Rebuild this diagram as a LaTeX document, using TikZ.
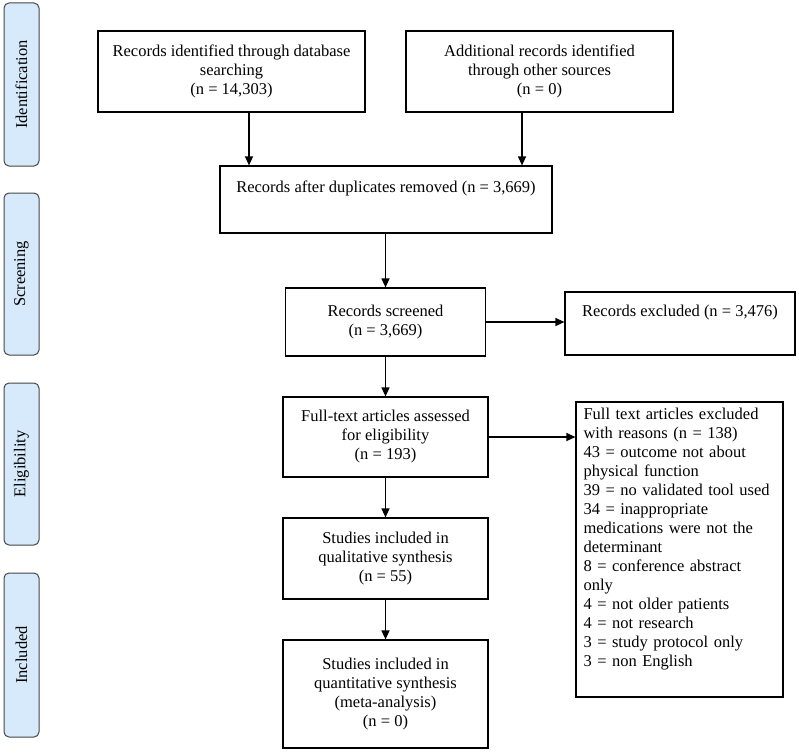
\documentclass[tikz,border=0pt]{standalone}
\usepackage{fontspec}
\setmainfont{Liberation Serif}
\usetikzlibrary{positioning,calc,arrows.meta}
\definecolor{phasefill}{RGB}{214,234,251}
\definecolor{phaseline}{RGB}{70,70,70}

\begin{document}
\begin{tikzpicture}[x=1pt,y=-1pt,
			font=\fontsize{16.5}{19}\selectfont,
			box/.style={draw, line width=1.2pt, align=center, inner sep=2pt},
			phase/.style={draw=phaseline, fill=phasefill, rounded corners=5pt, line width=1pt,
				rotate=90, minimum height=35pt, inner sep=0pt},
			arr/.style={line width=1.2pt, -{Triangle[length=9pt,width=8pt]}}]
			\useasboundingbox (0,0) rectangle (799,752);
			% phases
			\node[phase, minimum width=163pt] (ident) at (21.5,84.5) {Identification};
			\node[phase, minimum width=162pt] (screen) at (21.5,274) {Screening};
			\node[phase, minimum width=162pt] (elig) at (21.5,464) {Eligibility};
			\node[phase, minimum width=164pt] (incl) at (21.5,655) {Included};
			% flow boxes
			\node[box, minimum width=267pt, minimum height=81pt] (db) at (231.5,71.5)
				{Records identified through database\\searching\\(n = 14,303)};
			\node[box, minimum width=267pt, minimum height=81pt] (other) at (539.5,71.5)
				{Additional records identified\\through other sources\\(n = 0)};
			\node[box, minimum width=332pt, minimum height=67pt] (dup) at (386,199.5)
				{Records after duplicates removed (n = 3,669)\\\strut};
			\node[box, minimum width=200pt, minimum height=68pt] (screened) at (385.5,322)
				{Records screened\\(n = 3,669)};
			\node[box, minimum width=230pt, minimum height=63pt] (excluded) at (680,323.5)
				{Records excluded (n = 3,476)\\\strut};
			\node[box, minimum width=205pt, minimum height=80pt] (fulltext) at (385.5,437)
				{Full-text articles assessed\\for eligibility\\(n = 193)};
			\node[box, minimum width=207pt, minimum height=295pt, text width=192pt, inner xsep=0pt, align=left] (reasons) at (679.5,549.5)
				{Full text articles excluded\\with reasons (n = 138)\\43 = outcome not about\\physical function\\39 = no validated tool used\\34 = inappropriate\\medications were not the\\determinant\\8 = conference abstract\\only\\4 = not older patients\\4 = not research\\3 = study protocol only\\3 = non English\\\strut};
			\node[box, minimum width=205pt, minimum height=81pt] (qual) at (385.5,558.5)
				{Studies included in\\qualitative synthesis\\(n = 55)};
			\node[box, minimum width=205pt, minimum height=108pt] (quant) at (385.5,694)
				{Studies included in\\quantitative synthesis\\(meta-analysis)\\(n = 0)};
			% arrows
			\coordinate (dupL) at ($(dup.north)+(-137,0)$);
			\coordinate (dupR) at ($(dup.north)+(136,0)$);
			\draw[arr] (db.south -| dupL) -- (dupL);
			\draw[arr] (other.south -| dupR) -- (dupR);
			\draw[arr] (dup.south -| screened.north) -- (screened.north);
			\draw[arr] (screened.east) -- (screened.east -| excluded.west);
			\draw[arr] (screened.south) -- (fulltext.north);
			\draw[arr] (fulltext.east) -- (fulltext.east -| reasons.west);
			\draw[arr] (fulltext.south) -- (qual.north);
			\draw[arr] (qual.south) -- (quant.north);
		\end{tikzpicture}
\end{document}
